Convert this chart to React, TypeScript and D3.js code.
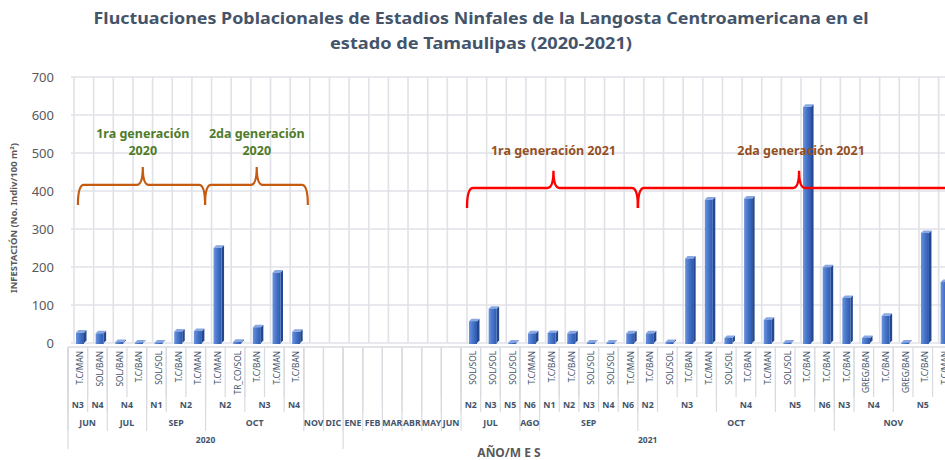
import { scaleBand, scaleLinear, range } from "d3";

// etiquetas de cada barra (vacías en los meses sin muestreo)
const tickLabels = [
  "T.C/MAN", "SOL/BAN", "SOL/BAN", "T.C/BAN", "SOL/SOL", "T.C/BAN", "T.C/MAN",
  "T.C/MAN", "TR_CO/SOL", "T.C/BAN", "T.C/MAN", "T.C/BAN",
  "", "", "", "", "", "", "", "",
  "SOL/SOL", "SOL/SOL", "SOL/SOL", "T.C/MAN", "T.C/BAN", "T.C/BAN", "SOL/SOL",
  "SOL/SOL", "T.C/MAN", "T.C/BAN", "SOL/SOL", "T.C/BAN", "T.C/MAN", "SOL/SOL",
  "T.C/BAN", "T.C/MAN", "SOL/SOL", "T.C/BAN", "T.C/BAN", "T.C/BAN", "GREG/BAN",
  "T.C/BAN", "GREG/BAN", "T.C/BAN", "T.C/MAN",
];

const stages = [
  "N3", "N4", "N4", "N4", "N1", "N2", "N2", "N2", "N2", "N3", "N3", "N4",
  "", "", "", "", "", "", "", "",
  "N2", "N3", "N5", "N6", "N1", "N2", "N3", "N4", "N6", "N2", "N3", "N3", "N3",
  "N4", "N4", "N4", "N5", "N5", "N6", "N3", "N4", "N4", "N5", "N5", "N5",
];

const months = [
  "JUN", "JUN", "JUL", "JUL", "SEP", "SEP", "SEP", "OCT", "OCT", "OCT", "OCT", "OCT",
  "NOV", "DIC", "ENE", "FEB", "MAR", "ABR", "MAY", "JUN",
  "JUL", "JUL", "JUL", "AGO", "SEP", "SEP", "SEP", "SEP", "SEP",
  "OCT", "OCT", "OCT", "OCT", "OCT", "OCT", "OCT", "OCT", "OCT", "OCT",
  "NOV", "NOV", "NOV", "NOV", "NOV", "NOV",
];

const years = [
  ...Array(14).fill("2020"),
  ...Array(31).fill("2021"),
];

// INFESTACIÓN (No. Indiv/100 m2)
const infestation: (number | null)[] = [
  34, 32, 9, 8, 4, 37, 38, 257, 10, 48, 192, 36,
  null, null, null, null, null, null, null, null,
  64, 97, 5, 32, 33, 32, 2, 2, 32, 32, 9, 229, 384, 20, 387, 68, 8, 628, 206,
  125, 20, 78, 8, 296, 167,
];

const yTicks = [0, 100, 200, 300, 400, 500, 600, 700];

// llaves y textos de generaciones (posición en índice de categoría / valor)
const braces = [
  { from: 0.2, to: 6.67, tip: 3.5, line: 416, end: 363, top: 463, color: "#c55a11", w: 2.2 },
  { from: 6.67, to: 11.9, tip: 9.3, line: 416, end: 363, top: 463, color: "#c55a11", w: 2.2 },
  { from: 20.0, to: 28.7, tip: 24.4, line: 408, end: 355, top: 453, color: "#ff0000", w: 2.4 },
  { from: 28.7, to: 45.2, tip: 36.9, line: 408, end: 355, top: 453, color: "#ff0000", w: 2.4 },
];

const notes = [
  { at: 3.5, val: 540, text: "1ra generación", color: "#4f7b2a" },
  { at: 3.5, val: 495, text: "2020", color: "#4f7b2a" },
  { at: 9.3, val: 540, text: "2da generación", color: "#4f7b2a" },
  { at: 9.3, val: 495, text: "2020", color: "#4f7b2a" },
  { at: 24.4, val: 494, text: "1ra generación 2021", color: "#94501f" },
  { at: 37.0, val: 494, text: "2da generación 2021", color: "#94501f" },
];

const W = 945;
const H = 460;
const left = 74;
const step = 19.65;
const FX = -6; // desplazamiento del plano frontal
const FY = 4;

function runs(keys: string[], labels: string[]) {
  const out: { start: number; end: number; label: string }[] = [];
  keys.forEach((k, i) => {
    const last = out[out.length - 1];
    if (last && keys[last.start] === k) last.end = i;
    else out.push({ start: i, end: i, label: labels[i] });
  });
  return out;
}

export default function App() {
  const n = tickLabels.length;
  const x = scaleBand<number>().domain(range(n)).range([left, left + n * step]);
  const bw = x.bandwidth();
  const xi = scaleLinear().domain([0, n]).range([left, left + n * step]);
  const y = scaleLinear().domain([0, 700]).range([343, 77]);
  const y0 = y(0);

  const stageGroups = runs(
    stages.map((s, i) => years[i] + months[i] + s),
    stages
  );
  const monthGroups = runs(months.map((m, i) => years[i] + m), months);
  const yearGroups = runs(years, years);

  const grid = "#e0e2e8";
  const sep = "#d9dbe0";
  const lbl = "#44546a";

  const bracePath = (b: typeof braces[number]) => {
    const x1 = xi(b.from), x2 = xi(b.to), xt = xi(b.tip);
    const yl = y(b.line), ye = y(b.end), yt = y(b.top);
    const r = 6;
    return `M${x1},${ye} Q${x1},${yl} ${x1 + r},${yl} L${xt - r},${yl} Q${xt},${yl} ${xt},${yt} Q${xt},${yl} ${xt + r},${yl} L${x2 - r},${yl} Q${x2},${yl} ${x2},${ye}`;
  };

  const boundaryLines = (
    groups: { start: number; end: number }[],
    y2: number,
    key: string
  ) =>
    groups.flatMap((g, gi) => {
      const xs = [x(g.start)! + FX];
      if (gi === groups.length - 1) xs.push(x(g.end)! + bw + FX);
      return xs.map((xx, j) => (
        <line key={`${key}-${gi}-${j}`} x1={xx} x2={xx} y1={y0 + FY} y2={y2} stroke={sep} strokeWidth={1.2} />
      ));
    });

  return (
    <svg width={W} height={H} style={{ position: "absolute", left: 0, top: 0, background: "#fff" }}
      fontFamily="'Noto Sans', 'Open Sans', sans-serif">
      <defs>
        <linearGradient id="front" x1="0" x2="1" y1="0" y2="0">
          <stop offset="0" stopColor="#6a93dc" />
          <stop offset="0.5" stopColor="#4573c8" />
          <stop offset="1" stopColor="#2f5aad" />
        </linearGradient>
      </defs>

      {/* título */}
      <text x={481} y={24} textAnchor="middle" fontSize={16} fontWeight={700} fill={lbl}
        textLength={775} lengthAdjust="spacingAndGlyphs">
        Fluctuaciones Poblacionales de Estadios Ninfales de la Langosta Centroamericana en el
      </text>
      <text x={481} y={49} textAnchor="middle" fontSize={16} fontWeight={700} fill={lbl}
        textLength={302} lengthAdjust="spacingAndGlyphs">
        estado de Tamaulipas (2020-2021)
      </text>

      {/* rejilla */}
      {yTicks.map((t) => (
        <line key={`h${t}`} x1={left - 3} x2={W} y1={y(t)} y2={y(t)} stroke={grid} strokeWidth={1.6} />
      ))}
      {range(n + 1).map((i) => (
        <line key={`v${i}`} x1={xi(i)} x2={xi(i)} y1={y(700)} y2={y0} stroke={grid} strokeWidth={1.6} />
      ))}
      {/* piso */}
      <line x1={left + FX} x2={W} y1={y0 + FY} y2={y0 + FY} stroke={sep} strokeWidth={1.4} />

      {/* eje y */}
      {yTicks.map((t) => (
        <text key={`yt${t}`} x={54} y={y(t) + 5} textAnchor="end" fontSize={13} fill="#595959">
          {t}
        </text>
      ))}
      <text transform="translate(17,218) rotate(-90)" textAnchor="middle" fontSize={8.5} fontWeight={700} fill="#595959"
        textLength={150} lengthAdjust="spacingAndGlyphs">
        INFESTACIÓN (No. Indiv/100 m²)
      </text>

      {/* barras 3D */}
      {infestation.map((v, i) => {
        if (v == null) return null;
        const x0 = x(i)! + 2;
        const w = 8;
        const d = 2.5;
        const top = Math.min(y(v) + d, y0 - 0.5);
        return (
          <g key={`b${i}`}>
            <polygon points={`${x0 + w},${top} ${x0 + w + d},${top - d} ${x0 + w + d},${y0 - d} ${x0 + w},${y0}`} fill="#23488f" />
            <polygon points={`${x0},${top} ${x0 + d},${top - d} ${x0 + w + d},${top - d} ${x0 + w},${top}`} fill="#89a8e3" />
            <rect x={x0} y={top} width={w} height={Math.max(0, y0 - top + 1)} fill="url(#front)" />
          </g>
        );
      })}

      {/* llaves */}
      {braces.map((b, i) => (
        <path key={`br${i}`} d={bracePath(b)} fill="none" stroke={b.color} strokeWidth={b.w} />
      ))}
      {notes.map((t, i) => (
        <text key={`nt${i}`} x={xi(t.at)} y={y(t.val)} textAnchor="middle" fontSize={12.5} fontWeight={700} fill={t.color}>
          {t.text}
        </text>
      ))}

      {/* eje x multinivel */}
      {boundaryLines(range(n).map((i) => ({ start: i, end: i })), 397, "tk")}
      {boundaryLines(stageGroups, 412, "st")}
      {boundaryLines(monthGroups, 431, "mo")}
      {boundaryLines(yearGroups, 449, "yr")}

      {tickLabels.map((t, i) =>
        t ? (
          <text key={`tl${i}`} transform={`translate(${x(i)! + bw / 2 + FX + 5.5},351) rotate(-90)`}
            textAnchor="end" fontSize={8.3} fill={lbl}>
            {t}
          </text>
        ) : null
      )}
      {stageGroups.map((g, i) =>
        g.label ? (
          <text key={`sg${i}`} x={(x(g.start)! + x(g.end)! + bw) / 2 + FX} y={407.5}
            textAnchor="middle" fontSize={8.8} fontWeight={700} fill={lbl}>
            {g.label}
          </text>
        ) : null
      )}
      {monthGroups.map((g, i) => (
        <text key={`mg${i}`} x={(x(g.start)! + x(g.end)! + bw) / 2 + FX} y={425.5}
          textAnchor="middle" fontSize={8.8} fontWeight={700} fill={lbl}>
          {g.label}
        </text>
      ))}
      {yearGroups.map((g, i) => (
        <text key={`yg${i}`} x={(x(g.start)! + x(g.end)! + bw) / 2 + FX} y={443}
          textAnchor="middle" fontSize={8.5} fontWeight={700} fill={lbl}>
          {g.label}
        </text>
      ))}
      <text x={509} y={457} textAnchor="middle" fontSize={12} fontWeight={700} fill="#595959">
        AÑO/M E S
      </text>
    </svg>
  );
}
